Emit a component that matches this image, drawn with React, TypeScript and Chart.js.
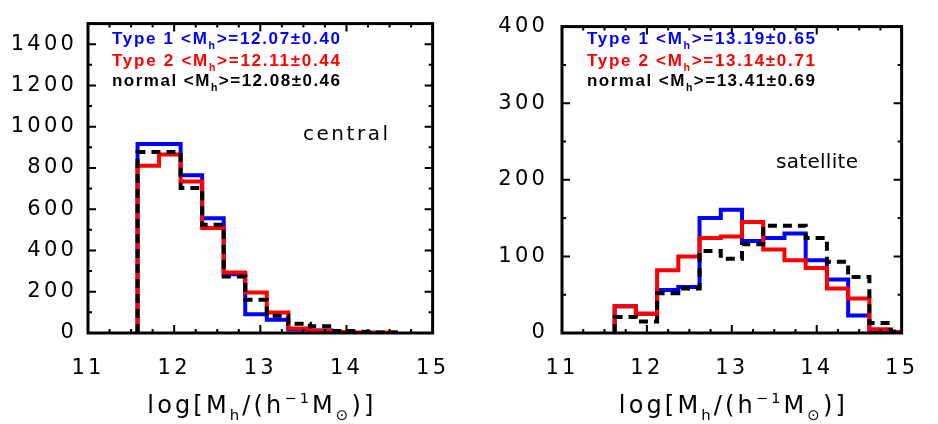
import React, { useEffect, useRef } from "react";
import { Chart, registerables } from "chart.js";

Chart.register(...registerables);

// ---------------- data ----------------
const centralBinCenters = [11.7, 11.95, 12.2, 12.45, 12.7, 12.95, 13.2, 13.45, 13.7, 13.95, 14.2, 14.45];
const centralType1 = [916, 916, 765, 556, 285, 91, 64, 17, 12, 2, 0, 0];
const centralType2 = [811, 865, 734, 509, 293, 196, 99, 22, 11, 5, 3, 2];
const centralNormal = [878, 878, 703, 525, 274, 161, 84, 45, 33, 10, 6, 3];

const satelliteBinCenters = [11.745, 11.995, 12.245, 12.495, 12.745, 12.995, 13.245, 13.495, 13.745, 13.995, 14.245, 14.495, 14.745, 14.995];
const satelliteType1 = [35, 25, 56, 60, 150, 161, 120, 124, 130, 95, 70, 23, 4, 1];
const satelliteType2 = [35, 25, 82, 100, 124, 126, 145, 109, 95, 85, 58, 45, 5, 1];
const satelliteNormal = [21, 15, 52, 58, 107, 97, 116, 140, 140, 124, 93, 73, 13, 2];

const xTickValues = [11, 12, 13, 14, 15];
const centralYTicks = [0, 200, 400, 600, 800, 1000, 1200, 1400];
const satelliteYTicks = [0, 100, 200, 300, 400];

const seriesNames = ["Type 1", "Type 2", "normal"];
const seriesColors = ["#0000ff", "#ff0000", "#000000"];
const centralMeans = ["12.07±0.40", "12.11±0.44", "12.08±0.46"];
const satelliteMeans = ["13.19±0.65", "13.14±0.71", "13.41±0.69"];

// ---------------- helpers ----------------
type Seg = { t: string; kind?: "sub" | "sup" };

function drawRich(
  ctx: CanvasRenderingContext2D,
  segs: Seg[],
  x: number,
  baseline: number,
  o: { family: string; weight: string; size: number; color: string; width?: number; align?: "left" | "center" }
) {
  ctx.save();
  ctx.fillStyle = o.color;
  ctx.textBaseline = "alphabetic";
  ctx.textAlign = "left";
  const fontOf = (s: Seg) => {
    const sz = s.kind === "sub" ? o.size * 0.62 : s.kind === "sup" ? o.size * 0.6 : o.size;
    return `${o.weight} ${sz}px ${o.family}`;
  };
  (ctx as any).letterSpacing = "0px";
  let w = 0;
  let n = 0;
  const widths: number[] = [];
  for (const s of segs) {
    ctx.font = fontOf(s);
    const m = ctx.measureText(s.t).width;
    widths.push(m);
    w += m;
    n += Array.from(s.t).length;
  }
  const sp = o.width ? (o.width - w) / Math.max(1, n - 1) : 0;
  const total = w + sp * (n - 1);
  let cx = o.align === "center" ? x - total / 2 : x;
  (ctx as any).letterSpacing = `${sp}px`;
  segs.forEach((s, i) => {
    ctx.font = fontOf(s);
    const dy = s.kind === "sub" ? o.size * 0.28 : s.kind === "sup" ? -o.size * 0.42 : 0;
    ctx.fillText(s.t, cx, baseline + dy);
    cx += widths[i] + sp * Array.from(s.t).length;
  });
  ctx.restore();
}

function stepPoints(centers: number[], values: number[]) {
  const w = centers[1] - centers[0];
  const pts: { x: number; y: number }[] = [{ x: centers[0] - w / 2, y: 0 }];
  centers.forEach((c, i) => pts.push({ x: c - w / 2, y: values[i] }));
  pts.push({ x: centers[centers.length - 1] + w / 2, y: 0 });
  return pts;
}

type PanelCfg = {
  centers: number[];
  series: number[][];
  yMax: number;
  yTicks: number[];
  yMinor: number;
  yMajor: number;
  padRight: number;
  padTop: number;
  yAxisWidth: number;
  yLabelPad: number;
  means: string[];
  legendDx: number;
  tag: string;
  tagX: number;
  tagBaseline: number;
  tagWidth: number;
};

function makeDecor(cfg: PanelCfg) {
  return {
    id: "decor",
    beforeDraw(chart: any) {
      (chart.ctx as any).letterSpacing = "3.2px";
    },
    afterDatasetsDraw(chart: any) {
      const ctx: CanvasRenderingContext2D = chart.ctx;
      const a = chart.chartArea;
      const xs = chart.scales.x;
      const ys = chart.scales.y;
      ctx.save();
      ctx.strokeStyle = "#000";
      ctx.lineCap = "butt";
      ctx.lineWidth = 2;
      ctx.beginPath();
      for (let k = 0; k <= 16; k++) {
        const v = 11 + k * 0.25;
        const px = xs.getPixelForValue(v);
        const len = k % 4 === 0 ? 8 : 4;
        ctx.moveTo(px, a.bottom);
        ctx.lineTo(px, a.bottom - len);
        ctx.moveTo(px, a.top);
        ctx.lineTo(px, a.top + len);
      }
      for (let v = 0; v <= cfg.yMax + 1e-9; v += cfg.yMinor) {
        const py = ys.getPixelForValue(v);
        const len = Math.abs(v / cfg.yMajor - Math.round(v / cfg.yMajor)) < 1e-6 ? 8 : 4;
        ctx.moveTo(a.left, py);
        ctx.lineTo(a.left + len, py);
        ctx.moveTo(a.right, py);
        ctx.lineTo(a.right - len, py);
      }
      ctx.stroke();
      ctx.lineWidth = 3;
      ctx.lineJoin = "miter";
      ctx.strokeRect(a.left, a.top, a.right - a.left, a.bottom - a.top);
      ctx.restore();
    },
    afterDraw(chart: any) {
      const ctx: CanvasRenderingContext2D = chart.ctx;
      const a = chart.chartArea;
      const baselines = [44, 66, 86];
      seriesNames.forEach((name, i) => {
        drawRich(
          ctx,
          [{ t: `${name} <M` }, { t: "h", kind: "sub" }, { t: `>=${cfg.means[i]}` }],
          a.left + cfg.legendDx,
          baselines[i],
          { family: "'Liberation Sans', Arial, sans-serif", weight: "bold", size: 17, color: seriesColors[i], width: 228 }
        );
      });
      drawRich(ctx, [{ t: cfg.tag }], cfg.tagX, cfg.tagBaseline, {
        family: "'DejaVu Sans', sans-serif",
        weight: "normal",
        size: 20,
        color: "#000",
        width: cfg.tagWidth,
      });
      drawRich(
        ctx,
        [
          { t: "log[M" },
          { t: "h", kind: "sub" },
          { t: "/(h" },
          { t: "−1", kind: "sup" },
          { t: "M" },
          { t: "⊙", kind: "sub" },
          { t: ")]" },
        ],
        (a.left + a.right) / 2,
        413,
        { family: "'DejaVu Sans', sans-serif", weight: "normal", size: 24, color: "#000", width: 226, align: "center" }
      );
    },
  };
}

function buildConfig(cfg: PanelCfg): any {
  const dashes = [undefined, undefined, [9, 6]];
  const orders = [2, 1, 0];
  return {
    type: "line",
    data: {
      datasets: cfg.series.map((vals, i) => ({
        data: stepPoints(cfg.centers, vals),
        borderColor: seriesColors[i],
        borderWidth: 4,
        borderDash: dashes[i] || [],
        borderJoinStyle: "miter",
        borderCapStyle: "butt",
        stepped: "before",
        pointRadius: 0,
        fill: false,
        order: orders[i],
      })),
    },
    options: {
      animation: false,
      responsive: false,
      events: [],
      layout: { padding: { left: 0, right: cfg.padRight, top: cfg.padTop, bottom: 0 }, autoPadding: false },
      plugins: { legend: { display: false }, tooltip: { enabled: false }, title: { display: false } },
      scales: {
        x: {
          type: "linear",
          min: 11,
          max: 15,
          grid: { display: false, drawTicks: false },
          border: { display: false },
          ticks: {
            font: { family: "'DejaVu Sans', sans-serif", size: 21 },
            color: "#000",
            padding: 23,
            maxRotation: 0,
            autoSkip: false,
            callback: (v: any) => String(v),
          },
          afterBuildTicks: (s: any) => {
            s.ticks = xTickValues.map((v) => ({ value: v }));
          },
          afterFit: (s: any) => {
            s.height = 91;
          },
        },
        y: {
          type: "linear",
          min: 0,
          max: cfg.yMax,
          grid: { display: false, drawTicks: false },
          border: { display: false },
          ticks: {
            font: { family: "'DejaVu Sans', sans-serif", size: 21 },
            color: "#000",
            padding: cfg.yLabelPad,
            autoSkip: false,
            callback: (v: any) => String(v),
          },
          afterBuildTicks: (s: any) => {
            s.ticks = cfg.yTicks.map((v) => ({ value: v }));
          },
          afterFit: (s: any) => {
            s.width = cfg.yAxisWidth;
          },
        },
      },
    },
    plugins: [makeDecor(cfg)],
  };
}

const centralCfg: PanelCfg = {
  centers: centralBinCenters,
  series: [centralType1, centralType2, centralNormal],
  yMax: 1500,
  yTicks: centralYTicks,
  yMinor: 100,
  yMajor: 200,
  padRight: 24,
  padTop: 10,
  yAxisWidth: 88,
  yLabelPad: 11,
  means: centralMeans,
  legendDx: 24,
  tag: "central",
  tagX: 303,
  tagBaseline: 140,
  tagWidth: 85,
};

const satelliteCfg: PanelCfg = {
  centers: satelliteBinCenters,
  series: [satelliteType1, satelliteType2, satelliteNormal],
  yMax: 400,
  yTicks: satelliteYTicks,
  yMinor: 50,
  yMajor: 100,
  padRight: 20,
  padTop: 9,
  yAxisWidth: 93,
  yLabelPad: 14,
  means: satelliteMeans,
  legendDx: 25,
  tag: "satellite",
  tagX: 307,
  tagBaseline: 168,
  tagWidth: 82,
};

function Panel({ cfg, left }: { cfg: PanelCfg; left: number }) {
  const ref = useRef<HTMLCanvasElement | null>(null);
  useEffect(() => {
    if (!ref.current) return;
    const chart = new Chart(ref.current, buildConfig(cfg));
    return () => chart.destroy();
  }, [cfg]);
  return (
    <canvas
      ref={ref}
      width={469}
      height={424}
      style={{ position: "absolute", left, top: 0, width: 469, height: 424, display: "block" }}
    />
  );
}

export default function App() {
  return (
    <div style={{ position: "absolute", left: 0, top: 0, width: 938, height: 424, background: "#fff" }}>
      <Panel cfg={centralCfg} left={0} />
      <Panel cfg={satelliteCfg} left={469} />
    </div>
  );
}
